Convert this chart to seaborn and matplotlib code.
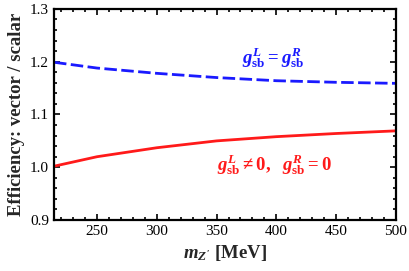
import numpy as np
import pandas as pd
import matplotlib
matplotlib.use('Agg')
import matplotlib.pyplot as plt
import seaborn as sns
from matplotlib.ticker import MultipleLocator, FormatStrFormatter

# values
mass = [214, 250, 300, 350, 400, 450, 500]
ratio_left_only = [1.002, 1.020, 1.037, 1.050, 1.058, 1.064, 1.069]
ratio_left_right = [1.199, 1.188, 1.178, 1.170, 1.164, 1.161, 1.159]

sns.set_style('ticks')
plt.rcParams['font.family'] = ['Liberation Serif', 'DejaVu Serif']
plt.rcParams['mathtext.fontset'] = 'custom'
plt.rcParams['mathtext.rm'] = 'Liberation Serif:bold'
plt.rcParams['mathtext.bf'] = 'Liberation Serif:bold'
plt.rcParams['mathtext.it'] = 'Liberation Serif:italic:bold'

df = pd.DataFrame({'m': mass, 'red': ratio_left_only, 'blue': ratio_left_right})

fig = plt.figure(figsize=(4.09, 2.71), dpi=100)
ax = fig.add_axes([0.132, 0.188, 0.836, 0.779])

sns.lineplot(data=df, x='m', y='blue', ax=ax, color='#1a1aff', lw=2.0,
             linestyle=(0, (4.5, 1.6)))
sns.lineplot(data=df, x='m', y='red', ax=ax, color='#ff1a1a', lw=2.0)

ax.set_xlim(214, 500)
ax.set_ylim(0.9, 1.3)
ax.xaxis.set_major_locator(MultipleLocator(50))
ax.xaxis.set_minor_locator(MultipleLocator(10))
ax.yaxis.set_major_locator(MultipleLocator(0.1))
ax.yaxis.set_minor_locator(MultipleLocator(0.02))
ax.yaxis.set_major_formatter(FormatStrFormatter('%.1f'))
ax.tick_params(which='both', direction='in', top=True, right=True,
               labelsize=11, colors='black', width=1.2)
ax.tick_params(which='major', length=4)
ax.tick_params(which='minor', length=2)
for sp in ax.spines.values():
    sp.set_linewidth(1.6)
    sp.set_color('black')

ax.set_xlabel(r"$m_{Z'}$ [MeV]", fontsize=13.5, fontweight='bold')
ax.set_ylabel('Efficiency: vector / scalar', fontsize=13.5, fontweight='bold')

ax.text(397, 1.207, r'$g^L_{\rm sb} = g^R_{\rm sb}$', color='#1a1aff',
        fontsize=13.5, ha='center', va='center')
ax.text(398, 1.004, r'$g^L_{\rm sb} \neq 0,\ \ g^R_{\rm sb} = 0$',
        color='#ff1a1a', fontsize=13.5, ha='center', va='center')

fig.savefig('out.png', dpi=100)
